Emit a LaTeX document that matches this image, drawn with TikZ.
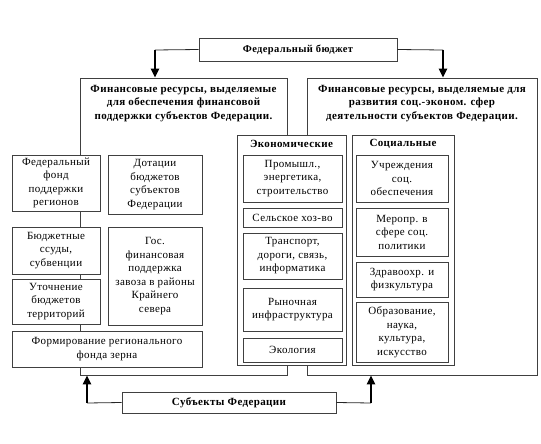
\documentclass[tikz,border=0pt]{standalone}
\usepackage{fontspec}
\setmainfont[LetterSpace=3.5]{Liberation Serif}
\usetikzlibrary{arrows.meta,calc}
\newcommand\mybox[7][]{\node[box,#1,minimum width={#5-#3},minimum height={#6-#4}] (#2) at ({(#3+#5)/2},{(#4+#6)/2}) {#7};}
\tikzset{
  box/.style={draw=black!75, line width=0.8pt, fill=white, inner sep=0pt, align=center,
    font=\fontsize{11}{13.5}\selectfont},
  bigbox/.style={box, fill=none},
  hdr/.style={inner sep=0pt, align=center, font=\fontsize{11}{13.5}\selectfont\bfseries},
  conn/.style={draw=black!85, line width=0.8pt},
  arr/.style={draw=black, line width=2.4pt, -{Triangle[length=9pt,width=8pt]}},
}
\begin{document}
\begin{tikzpicture}[x=1pt,y=-1pt]
\useasboundingbox (0,0) rectangle (541,444);
% top box
\mybox[font=\fontsize{10.5}{13.5}\selectfont\bfseries]{fb}{199}{38}{397}{61}{Федеральный бюджет}
% big boxes
\mybox[bigbox]{L}{80}{78}{287}{375}{}
\mybox[bigbox]{R}{307}{78}{537}{375}{}
\node[hdr, anchor=north] (Lt) at (183.5,85) {Финансовые ресурсы, выделяемые\\для обеспечения финансовой\\поддержки субъектов Федерации.};
\node[hdr, anchor=north] (Rt) at (422,85) {Финансовые ресурсы, выделяемые для\\развития соц.-эконом. сфер\\деятельности субъектов Федерации.};
% economic / social groups
\mybox{E}{237}{135}{346}{365}{}
\mybox{S}{352}{135}{454}{365}{}
\node[hdr] (Et) at (291.5,144) {Экономические};
\node[hdr] (St) at (403,144) {Социальные};
\mybox{e1}{243}{155}{342}{202}{Промышл.,\\энергетика,\\строительство}
\mybox{e2}{243}{208}{342}{227}{Сельское хоз-во}
\mybox{e3}{243}{233}{342}{279}{Транспорт,\\дороги, связь,\\информатика}
\mybox{e4}{243}{288}{342}{331}{Рыночная\\инфраструктура}
\mybox{e5}{243}{338}{342}{362}{Экология}
\mybox{s1}{356}{155}{448}{202}{Учреждения\\соц.\\обеспечения}
\mybox{s2}{356}{208}{448}{256}{Меропр. в\\сфере соц.\\политики}
\mybox{s3}{356}{262}{448}{297}{Здравоохр. и\\физкультура}
\mybox{s4}{356}{302}{448}{362}{Образование,\\наука,\\культура,\\искусство}
% left small boxes
\mybox{l1}{12}{155}{100}{211}{Федеральный\\фонд\\поддержки\\регионов}
\mybox{l2}{108}{155}{202}{214}{Дотации\\бюджетов\\субъектов\\Федерации}
\mybox{l3}{12}{227}{100}{274}{Бюджетные\\ссуды,\\субвенции}
\mybox{l4}{108}{227}{202}{325}{Гос.\\финансовая\\поддержка\\завоза в районы\\Крайнего\\севера}
\mybox{l5}{12}{279}{100}{324}{Уточнение\\бюджетов\\территорий}
\mybox{l6}{12}{331}{202}{367}{Формирование регионального\\фонда зерна}
% bottom box
\mybox[font=\fontsize{11}{13.5}\selectfont\bfseries]{sf}{122}{392}{336}{413}{Субъекты Федерации}
% connectors
\coordinate (cl) at (155,50);
\coordinate (cr) at (443,50);
\coordinate (bl) at (87,403);
\coordinate (br) at (371,403);
\draw[conn] (fb.west) -- (cl);
\draw[arr] (cl) -- (cl |- L.north);
\draw[conn] (fb.east) -- (cr);
\draw[arr] (cr) -- (cr |- R.north);
\draw[conn] (sf.west) -- (bl);
\draw[arr] (bl) -- (bl |- L.south);
\draw[conn] (sf.east) -- (br);
\draw[arr] (br) -- (br |- R.south);
\end{tikzpicture}
\end{document}
